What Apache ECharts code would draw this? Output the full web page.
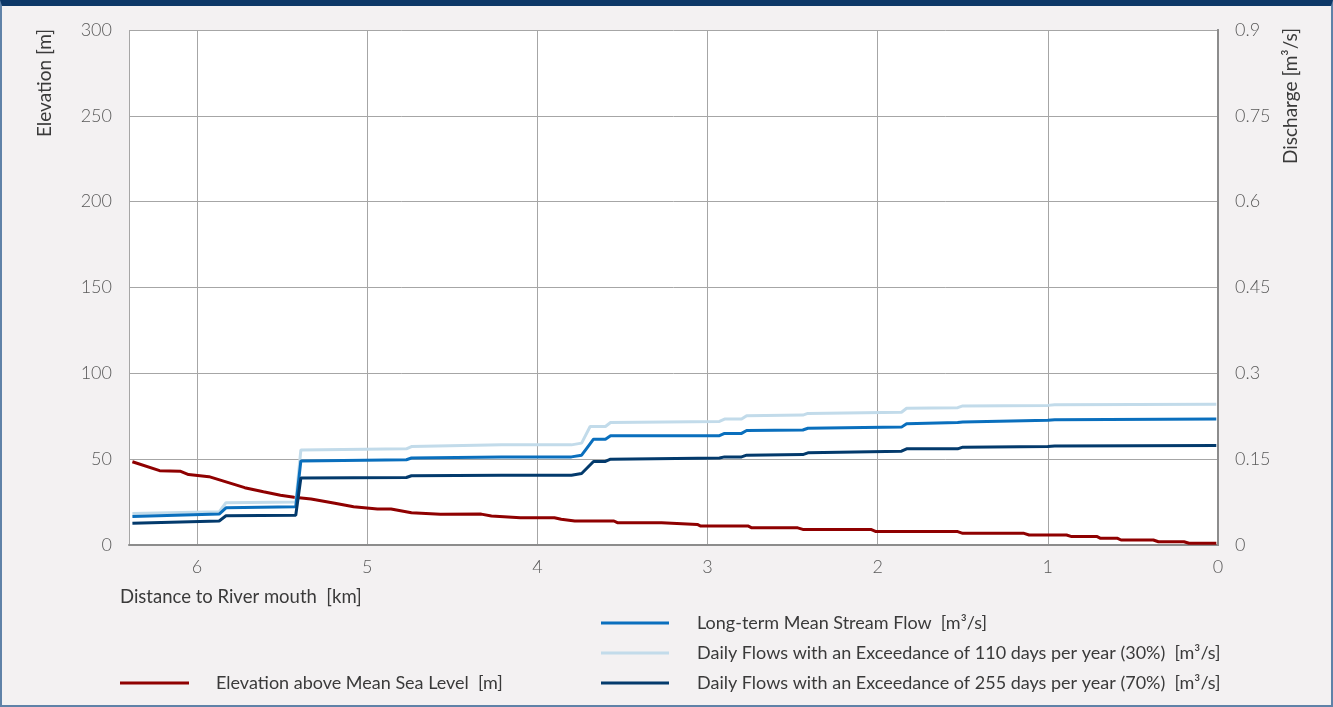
<!DOCTYPE html>
<html>
<head>
<meta charset="utf-8">
<script src="https://cdn.jsdelivr.net/npm/echarts@6/dist/echarts.min.js"></script>
<style>
  html, body { margin: 0; padding: 0; background: #f3f1f2; }
  #chart { position: absolute; left: 0; top: 0; width: 1333px; height: 707px; }
  #frame {
    position: absolute; left: 0; top: 0; width: 1333px; height: 707px;
    box-sizing: border-box; pointer-events: none;
    border-top: 6px solid #0d3868; border-left: 2px solid #5f82a8;
    border-right: 2px solid #5f82a8; border-bottom: 2px solid #5f82a8;
  }
</style>
</head>
<body>
<div id="chart"></div>
<div id="frame"></div>
<script>
// distance to river mouth [km] / value pairs
var elevation = [
  [6.38, 48.5], [6.22, 43.3], [6.10, 43], [6.05, 41], [5.93, 39.8], [5.72, 33.4],
  [5.61, 31], [5.51, 29], [5.43, 27.8], [5.33, 26.8], [5.19, 24.3], [5.08, 22.3],
  [4.94, 21], [4.86, 21], [4.74, 18.8], [4.57, 17.9], [4.33, 18], [4.27, 16.9],
  [4.10, 15.9], [3.90, 15.9], [3.86, 15], [3.78, 14], [3.55, 14], [3.53, 13],
  [3.27, 13], [3.26, 12], [3.06, 12], [3.04, 11], [2.76, 11], [2.74, 10],
  [2.47, 10], [2.44, 9.1], [2.04, 9.1], [2.01, 7.8], [1.53, 7.8], [1.50, 6.8],
  [1.14, 6.8], [1.11, 5.8], [0.89, 5.8], [0.86, 4.9], [0.71, 4.9], [0.69, 3.9],
  [0.59, 3.9], [0.57, 2.9], [0.38, 2.9], [0.35, 1.9], [0.20, 1.9], [0.17, 1.0],
  [0.01, 1.0]
];
var meanFlow = [
  [6.38, 0.050], [5.87, 0.054], [5.83, 0.065], [5.42, 0.067], [5.39, 0.147],
  [4.77, 0.149], [4.74, 0.152], [4.21, 0.154], [3.80, 0.154], [3.74, 0.157],
  [3.71, 0.169], [3.67, 0.185], [3.60, 0.185], [3.57, 0.191], [2.93, 0.191],
  [2.90, 0.195], [2.80, 0.195], [2.77, 0.200], [2.44, 0.201], [2.41, 0.204],
  [1.86, 0.206], [1.83, 0.212], [1.53, 0.214], [1.50, 0.215], [1.00, 0.218],
  [0.96, 0.219], [0.01, 0.220]
];
var flow30 = [
  [6.38, 0.055], [5.87, 0.058], [5.83, 0.074], [5.42, 0.075], [5.39, 0.166],
  [4.77, 0.168], [4.74, 0.172], [4.21, 0.175], [3.80, 0.175], [3.74, 0.178],
  [3.69, 0.207], [3.60, 0.207], [3.57, 0.214], [2.93, 0.216], [2.90, 0.220],
  [2.80, 0.220], [2.77, 0.226], [2.44, 0.227], [2.41, 0.230], [1.86, 0.232],
  [1.83, 0.239], [1.53, 0.240], [1.50, 0.243], [1.00, 0.244], [0.96, 0.245],
  [0.01, 0.246]
];
var flow70 = [
  [6.38, 0.038], [5.87, 0.042], [5.83, 0.051], [5.42, 0.052], [5.39, 0.117],
  [4.77, 0.118], [4.74, 0.121], [4.21, 0.122], [3.80, 0.122], [3.74, 0.125],
  [3.67, 0.146], [3.60, 0.146], [3.57, 0.150], [2.93, 0.152], [2.90, 0.154],
  [2.80, 0.154], [2.77, 0.157], [2.44, 0.158], [2.41, 0.161], [1.86, 0.164],
  [1.83, 0.168], [1.53, 0.168], [1.50, 0.171], [1.00, 0.172], [0.96, 0.173],
  [0.01, 0.174]
];

var font = 'Lato, "Noto Sans", sans-serif';
var tickLabel = { color: '#5a5a5a', fontSize: 18, fontFamily: font, fontWeight: 300 };
var gridLine = { lineStyle: { color: '#a6a6a6', width: 1 } };
var legendText = { color: '#3a3a3a', fontSize: 18, fontFamily: font, padding: [0, 0, 0, 23], lineHeight: 20 };

var chart = echarts.init(document.getElementById('chart'));
chart.setOption({
  backgroundColor: '#f3f1f2',
  animation: false,
  grid: { left: 129, right: 115, top: 30, bottom: 162, show: true, backgroundColor: '#ffffff', borderWidth: 0 },
  xAxis: {
    type: 'value', min: 0, max: 6.4, interval: 1, inverse: true,
    axisLine: { lineStyle: { color: '#8c8c8c', width: 2 } },
    axisTick: { show: false },
    axisLabel: Object.assign({ margin: 13, showMaxLabel: false }, tickLabel),
    splitLine: gridLine
  },
  yAxis: [{
    type: 'value', min: 0, max: 300, interval: 50,
    axisLine: { show: true, lineStyle: { color: '#8c8c8c', width: 2 } },
    axisTick: { show: false },
    axisLabel: Object.assign({ margin: 17 }, tickLabel),
    splitLine: gridLine
  }, {
    type: 'value', min: 0, max: 0.9, interval: 0.15,
    axisLine: { show: true, lineStyle: { color: '#8c8c8c', width: 2 } },
    axisTick: { show: false },
    axisLabel: Object.assign({ margin: 17, formatter: function (v) { return String(+v.toFixed(2)); } }, tickLabel),
    splitLine: { show: false }
  }],
  legend: [{
    orient: 'vertical', left: 596, top: 608, itemGap: 10,
    itemWidth: 68, itemHeight: 3, icon: 'rect',
    textStyle: legendText,
    data: ['Long-term Mean Stream Flow  [m³/s]',
           'Daily Flows with an Exceedance of 110 days per year (30%)  [m³/s]',
           'Daily Flows with an Exceedance of 255 days per year (70%)  [m³/s]']
  }, {
    orient: 'vertical', left: 115, top: 668,
    itemWidth: 69, itemHeight: 3, icon: 'rect',
    textStyle: Object.assign({}, legendText, { padding: [0, 0, 0, 22] }),
    data: ['Elevation above Mean Sea Level  [m]']
  }],
  graphic: [
    { type: 'text', left: 120, top: 588, style: { text: 'Distance to River mouth  [km]', font: '18.5px ' + font, fill: '#3a3a3a' } },
    { type: 'text', x: 45, y: 83, rotation: Math.PI / 2,
      style: { text: 'Elevation [m]', font: '19px ' + font, fill: '#3a3a3a', align: 'center', verticalAlign: 'middle' } },
    { type: 'text', x: 1291, y: 96, rotation: Math.PI / 2,
      style: { text: 'Discharge [m³/s]', font: '19px ' + font, fill: '#3a3a3a', align: 'center', verticalAlign: 'middle' } }
  ],
  series: [{
    name: 'Elevation above Mean Sea Level  [m]', type: 'line', yAxisIndex: 0,
    showSymbol: false, color: '#8f0000', lineStyle: { width: 3 }, data: elevation
  }, {
    name: 'Daily Flows with an Exceedance of 110 days per year (30%)  [m³/s]', type: 'line', yAxisIndex: 1,
    showSymbol: false, color: '#c2dbea', lineStyle: { width: 3 }, data: flow30
  }, {
    name: 'Long-term Mean Stream Flow  [m³/s]', type: 'line', yAxisIndex: 1,
    showSymbol: false, color: '#0a6fbd', lineStyle: { width: 3 }, data: meanFlow
  }, {
    name: 'Daily Flows with an Exceedance of 255 days per year (70%)  [m³/s]', type: 'line', yAxisIndex: 1,
    showSymbol: false, color: '#033a6c', lineStyle: { width: 3 }, data: flow70
  }]
});
</script>
</body>
</html>
